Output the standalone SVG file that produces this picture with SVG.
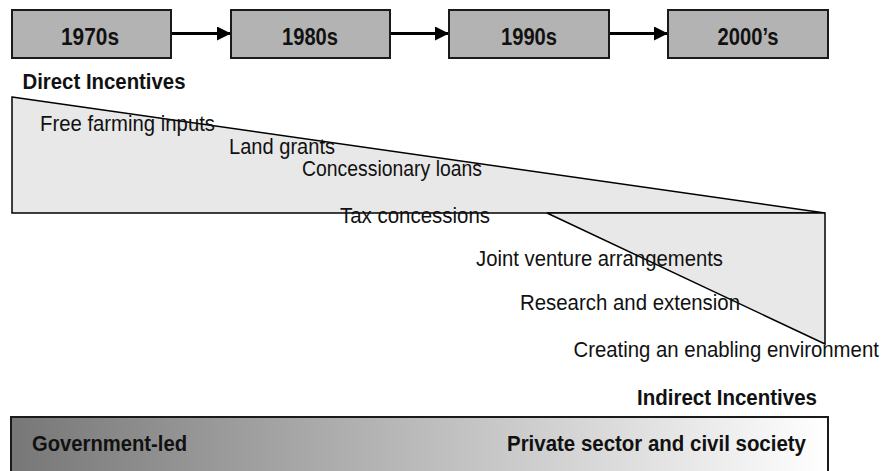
<svg xmlns="http://www.w3.org/2000/svg" width="886" height="471" viewBox="0 0 886 471">
  <defs>
    <marker id="arrow" markerWidth="14" markerHeight="14" refX="14" refY="7" orient="auto" markerUnits="userSpaceOnUse">
      <path d="M0,0 L14,7 L0,14 Z" fill="#000"/>
    </marker>
    <linearGradient id="grad" x1="11" y1="0" x2="828" y2="0" gradientUnits="userSpaceOnUse">
      <stop offset="0" stop-color="#777777"/>
      <stop offset="1" stop-color="#ffffff"/>
    </linearGradient>
    <style>
      .box { fill: #b3b3b3; stroke: #1a1a1a; stroke-width: 2; }
      .bold { font-family: "Liberation Sans", Arial, sans-serif; font-weight: bold; fill: #111; }
      .reg { font-family: "Liberation Sans", Arial, sans-serif; font-size: 22.5px; fill: #111; }
      .yr { font-size: 23px; text-anchor: middle; }
      .lbl { font-size: 22px; }
      .tri { fill: #e8e8e8; stroke: #000; stroke-width: 1.5; stroke-linejoin: miter; }
      .conn { stroke: #000; stroke-width: 3; fill: none; }
    </style>
  </defs>
  <rect width="886" height="471" fill="#ffffff"/>

  <g id="connectors">
    <line class="conn" x1="171" y1="33.5" x2="231" y2="33.5" marker-end="url(#arrow)"/>
    <line class="conn" x1="390" y1="33.5" x2="449" y2="33.5" marker-end="url(#arrow)"/>
    <line class="conn" x1="609" y1="33.5" x2="668" y2="33.5" marker-end="url(#arrow)"/>
  </g>

  <g id="node-1970s">
    <rect class="box" x="12" y="10" width="159" height="48"/>
    <text class="bold yr" x="90" y="45" textLength="58" lengthAdjust="spacingAndGlyphs">1970s</text>
  </g>
  <g id="node-1980s">
    <rect class="box" x="231" y="10" width="159" height="48"/>
    <text class="bold yr" x="310" y="45" textLength="56" lengthAdjust="spacingAndGlyphs">1980s</text>
  </g>
  <g id="node-1990s">
    <rect class="box" x="449" y="10" width="160" height="48"/>
    <text class="bold yr" x="529" y="45" textLength="56" lengthAdjust="spacingAndGlyphs">1990s</text>
  </g>
  <g id="node-2000s">
    <rect class="box" x="668" y="10" width="160" height="48"/>
    <text class="bold yr" x="748" y="45" textLength="61" lengthAdjust="spacingAndGlyphs">2000’s</text>
  </g>

  <text class="bold lbl" x="22.5" y="88.5" textLength="163" lengthAdjust="spacingAndGlyphs">Direct Incentives</text>

  <polygon class="tri" points="12,97 825,213 12,213"/>
  <polygon class="tri" points="547,213 825,213 825,344"/>

  <g id="incentives">
    <text class="reg" x="40" y="130.5" textLength="175" lengthAdjust="spacingAndGlyphs">Free farming inputs</text>
    <text class="reg" x="229" y="153.5" textLength="106" lengthAdjust="spacingAndGlyphs">Land grants</text>
    <text class="reg" x="302" y="175.5" textLength="180" lengthAdjust="spacingAndGlyphs">Concessionary loans</text>
    <text class="reg" x="340" y="223" textLength="150" lengthAdjust="spacingAndGlyphs">Tax concessions</text>
    <text class="reg" x="476" y="266" textLength="247" lengthAdjust="spacingAndGlyphs">Joint venture arrangements</text>
    <text class="reg" x="520" y="310" textLength="220" lengthAdjust="spacingAndGlyphs">Research and extension</text>
    <text class="reg" transform="translate(573.5,357) scale(0.905,1)" x="0" y="0">Creating an enabling environment</text>
  </g>

  <text class="bold lbl" x="637" y="405" textLength="180" lengthAdjust="spacingAndGlyphs">Indirect Incentives</text>

  <g id="spectrum-bar">
    <rect x="11" y="417" width="817" height="70" fill="url(#grad)" stroke="#1a1a1a" stroke-width="2"/>
    <text class="bold lbl" x="32" y="451" textLength="155" lengthAdjust="spacingAndGlyphs">Government-led</text>
    <text class="bold lbl" x="507" y="451" textLength="299" lengthAdjust="spacingAndGlyphs">Private sector and civil society</text>
  </g>
</svg>
